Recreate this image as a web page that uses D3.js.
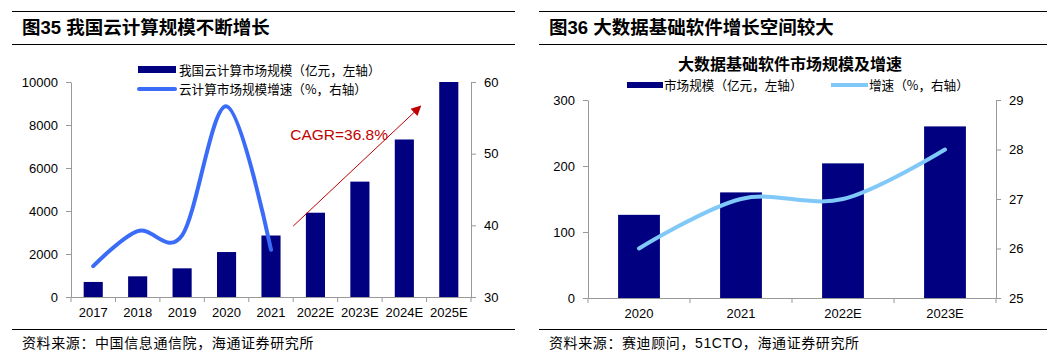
<!DOCTYPE html>
<html><head><meta charset="utf-8">
<script src="https://cdn.jsdelivr.net/npm/d3@7"></script>
<style>
body{margin:0;background:#fff;}
svg text{font-family:"Liberation Sans",Arial,"Noto Sans CJK SC",sans-serif;fill:#000;}
</style></head><body>
<svg id="c" width="1060" height="362"></svg>
<script>
// ---- data: left chart ----
const cloudYears = ["2017","2018","2019","2020","2021","2022E","2023E","2024E","2025E"];
const cloudSize = [700, 962, 1334, 2091, 2860, 3920, 5366, 7326, 10000];
const cloudGrowthYears = ["2017","2018","2019","2020","2021"];
const cloudGrowth = [34.3, 39.2, 38.6, 56.6, 36.6];
const cloudLeftTicks = [0, 2000, 4000, 6000, 8000, 10000];
const cloudRightTicks = [30, 40, 50, 60];
// ---- data: right chart ----
const bdYears = ["2020","2021","2022E","2023E"];
const bdSize = [126, 160, 204, 260];
const bdGrowth = [26, 27, 27, 28];
const bdLeftTicks = [0, 100, 200, 300];
const bdRightTicks = [25, 26, 27, 28, 29];

const svg = d3.select("#c");
const CJK = '"Noto Sans CJK SC","Liberation Sans",sans-serif';
const NAVY = "#000080";
const AX = "#999";

function frame(x1, x2, title, source) {
  svg.append("line").attr("x1",x1).attr("x2",x2).attr("y1",11.5).attr("y2",11.5).attr("stroke","#000").attr("stroke-width",1.2);
  svg.append("line").attr("x1",x1).attr("x2",x2).attr("y1",44.5).attr("y2",44.5).attr("stroke","#000").attr("stroke-width",1.2);
  svg.append("text").attr("x",x1+10).attr("y",34).attr("font-size",18.5).attr("font-weight","bold").text(title);
  svg.append("line").attr("x1",x1).attr("x2",x2).attr("y1",329.5).attr("y2",329.5).attr("stroke","#000").attr("stroke-width",1.2);
  svg.append("text").attr("x",x1+10).attr("y",348).attr("font-size",14).attr("letter-spacing",0.6).text(source);
}

function styleAxis(g){
  g.selectAll(".domain").attr("stroke",AX);
  g.selectAll(".tick line").attr("stroke",AX);
  g.selectAll(".tick text").attr("font-size",13).attr("fill","#000")
   .style("font-family",'"Liberation Sans",Arial,sans-serif');
}

function combo(opt){
  const x = d3.scaleBand().domain(opt.cats).range([opt.left,opt.right]).padding(0);
  const bw = x.bandwidth();
  const yL = d3.scaleLinear().domain(opt.lDom).range([opt.bottom,opt.top]);
  const yR = d3.scaleLinear().domain(opt.rDom).range([opt.bottom,opt.top]);
  // bars
  svg.append("g").selectAll("rect").data(opt.bars).join("rect")
    .attr("x",(d,i)=>x(opt.cats[i])+bw*(1-opt.barFrac)/2)
    .attr("width",bw*opt.barFrac)
    .attr("y",d=>yL(d)).attr("height",d=>yL(0)-yL(d))
    .attr("fill",NAVY);
  // axes
  const gl = svg.append("g").attr("transform",`translate(${opt.left},0)`)
    .call(d3.axisLeft(yL).tickValues(opt.lTicks).tickSize(5).tickSizeOuter(0).tickPadding(8).tickFormat(d3.format("d")));
  styleAxis(gl);
  const gr = svg.append("g").attr("transform",`translate(${opt.right},0)`)
    .call(d3.axisRight(yR).tickValues(opt.rTicks).tickSize(5).tickSizeOuter(0).tickPadding(8).tickFormat(d3.format("d")));
  styleAxis(gr);
  const gb = svg.append("g").attr("transform",`translate(0,${opt.bottom})`)
    .call(d3.axisBottom(x).tickSize(0).tickPadding(11));
  styleAxis(gb);
  // boundary ticks
  const bounds = opt.cats.map(c=>x(c)).concat([opt.right]);
  svg.append("g").selectAll("line").data(bounds).join("line")
    .attr("x1",d=>d).attr("x2",d=>d).attr("y1",opt.bottom).attr("y2",opt.bottom+5)
    .attr("stroke",AX);
  // line
  const line = d3.line().x((d,i)=>x(opt.lineCats[i])+bw/2).y(d=>yR(d)).curve(d3.curveCardinal.tension(0));
  svg.append("path").attr("d",line(opt.line)).attr("fill","none")
    .attr("stroke",opt.lineColor).attr("stroke-width",4).attr("stroke-linecap","round");
  return {x,yL,yR,bw};
}

// ---------- Left chart ----------
frame(12, 515, "图35 我国云计算规模不断增长", "资料来源：中国信息通信院，海通证券研究所");
const L = combo({cats:cloudYears, bars:cloudSize, lineCats:cloudGrowthYears, line:cloudGrowth,
  left:71, right:471, top:82, bottom:297, lDom:[0,10000], rDom:[30,60],
  lTicks:cloudLeftTicks, rTicks:cloudRightTicks, barFrac:0.43, lineColor:"#3B6CF8"});

// legend left
svg.append("rect").attr("x",138).attr("y",66).attr("width",38).attr("height",7).attr("fill",NAVY);
svg.append("text").attr("x",179).attr("y",74.5).attr("font-size",12.6).style("font-family",CJK).text("我国云计算市场规模（亿元，左轴）");
svg.append("line").attr("x1",139).attr("x2",175).attr("y1",89).attr("y2",89).attr("stroke","#3B6CF8").attr("stroke-width",4).attr("stroke-linecap","round");
svg.append("text").attr("x",179).attr("y",93.5).attr("font-size",12.6).style("font-family",CJK).text("云计算市场规模增速（%，右轴）");

// CAGR annotation
const red = "#C00000";
svg.append("defs").append("marker").attr("id","ah").attr("viewBox","0 0 10 10")
  .attr("refX",9).attr("refY",5).attr("markerWidth",12).attr("markerHeight",10).attr("markerUnits","userSpaceOnUse")
  .attr("orient","auto").append("path").attr("d","M0,0 L10,5 L0,10 z").attr("fill",red);
svg.append("line")
  .attr("x1",L.x("2022E")).attr("y1",L.yL(3300))
  .attr("x2",L.x("2025E")-6).attr("y2",L.yL(8870))
  .attr("stroke",red).attr("stroke-width",1).attr("marker-end","url(#ah)");
svg.append("text").attr("x",L.x("2022E")-3).attr("y",L.yL(7300)).attr("font-size",15.5).attr("fill",red)
  .style("fill",red).text("CAGR=36.8%");

// ---------- Right chart ----------
frame(539, 1047, "图36 大数据基础软件增长空间较大", "资料来源：赛迪顾问，51CTO，海通证券研究所");
svg.append("text").attr("x",790).attr("y",70).attr("text-anchor","middle").attr("font-size",16).attr("font-weight","bold")
  .style("font-family",CJK).text("大数据基础软件市场规模及增速");
const R = combo({cats:bdYears, bars:bdSize, lineCats:bdYears, line:bdGrowth,
  left:588, right:996, top:100, bottom:298, lDom:[0,300], rDom:[25,29],
  lTicks:bdLeftTicks, rTicks:bdRightTicks, barFrac:0.41, lineColor:"#80C8F8"});
svg.append("rect").attr("x",627).attr("y",82).attr("width",36).attr("height",6).attr("fill",NAVY);
svg.append("text").attr("x",664).attr("y",89.5).attr("font-size",12.6).style("font-family",CJK).text("市场规模（亿元，左轴）");
svg.append("line").attr("x1",831).attr("x2",868).attr("y1",85).attr("y2",85).attr("stroke","#80C8F8").attr("stroke-width",4);
svg.append("text").attr("x",869).attr("y",89.5).attr("font-size",12.6).style("font-family",CJK).text("增速（%，右轴）");
</script>
</body></html>
